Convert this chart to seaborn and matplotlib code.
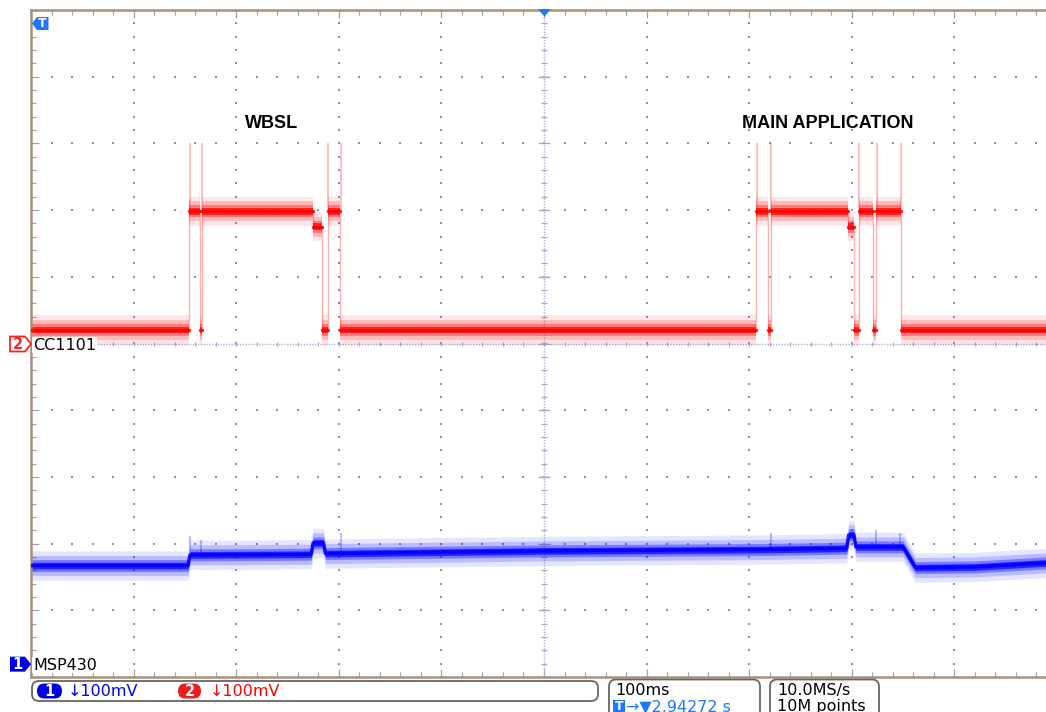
import numpy as np
import pandas as pd
import matplotlib
matplotlib.use("Agg")
import matplotlib.pyplot as plt
import seaborn as sns
from matplotlib.patches import Polygon, FancyBboxPatch, Rectangle
from matplotlib.ticker import MultipleLocator

# ---------------- data ----------------
time_div_ms = 100          # horizontal scale
volt_div_mV = 100          # vertical scale, both channels
ch1_offset_div = -4.8      # MSP430 ground marker position (divisions)
ch2_offset_div = 0.0       # CC1101 ground marker position (divisions)

# CC1101 current (channel 2): step segments
red_edges_ms = [-500, -346, -335, -333, -225, -216, -211, -199, 207, 218, 221,
                296, 302, 307, 321, 324, 348, 500]
red_level_mV = [20, 198, 20, 198, 175, 20, 198, 20, 198, 20, 198,
                175, 20, 198, 20, 198, 20]
red_spike_ms = [-345, -333, -211, -198, 208, 221, 307, 325, 348]
red_spike_top_mV = [300, 300, 300, 300, 300, 300, 300, 300, 300]

# MSP430 current (channel 1): trace vertices
blue_t_ms = [-500, -347, -345, -227, -225, -215, -213, 0, 206, 295, 297, 302,
             304, 350, 362, 420, 500]
blue_mV = [147, 147, 163, 164, 181, 181, 165, 169, 171, 173, 193, 193,
           175, 175, 144, 145, 152]
blue_spike_ms = [-345, -334, -198, 221, 324, 347]
blue_spike_top_mV = [192, 186, 196, 196, 200, 196]

annot_labels = ["WBSL", "MAIN APPLICATION"]
annot_x_ms = [-266, 277]
annot_y_div = [3.3, 3.3]

ch_names = ["MSP430", "CC1101"]
scale_labels = ["\u2193100mV", "\u2193100mV"]
timebase_label = "100ms"
trigger_label = "\u2192\u25bc2.94272 s"
rate_label = "10.0MS/s"
points_label = "10M points"

# ---------------- style ----------------
sns.set_theme(style="white")
plt.rcParams["font.family"] = ["DejaVu Sans"]

W, H = 1046, 712
fig = plt.figure(figsize=(W / 100, H / 100), dpi=100)
fig.patch.set_facecolor("white")

ax = fig.add_axes([31 / W, (H - 677) / H, 1026 / W, 667 / H])
ax.set_xlim(-5 * time_div_ms, 5 * time_div_ms)
ax.set_ylim(-5, 5)
ax.set_facecolor("white")

RED = "#ff0000"
BLUE = "#0000ff"
GRIDC = "#8c90b0"
BANDS = [(0.22, 0.10), (0.15, 0.18), (0.09, 0.35), (0.05, 0.7)]

# ---- graticule ----
ax.xaxis.set_major_locator(MultipleLocator(time_div_ms))
ax.xaxis.set_minor_locator(MultipleLocator(time_div_ms / 5))
ax.yaxis.set_major_locator(MultipleLocator(1))
ax.yaxis.set_minor_locator(MultipleLocator(0.2))
ax.tick_params(which="both", direction="in", top=True, bottom=True, left=True,
               right=False, labelbottom=False, labelleft=False, color="#9aa0c0")
ax.tick_params(which="major", length=6, width=0.9)
ax.tick_params(which="minor", length=3.5, width=0.8)
for s in ["left", "top", "bottom"]:
    ax.spines[s].set_color("#a8917a")
    ax.spines[s].set_linewidth(1.8)
ax.spines["right"].set_visible(False)

xs_major = [x for x in np.arange(-4, 5) * time_div_ms if x != 0]
ys_major = [y for y in np.arange(-4, 5) if y != 0]
yd = np.arange(-5, 5.001, 0.2)
xd = np.arange(-5 * time_div_ms, 5 * time_div_ms + 0.1, time_div_ms / 5)
gx = np.concatenate([np.full(len(yd), x) for x in xs_major] + [xd for _ in ys_major])
gy = np.concatenate([yd for _ in xs_major] + [np.full(len(xd), y) for y in ys_major])
ax.scatter(gx, gy, s=2.2, marker="s", color=GRIDC, linewidths=0, zorder=0.5)

ax.axvline(0, color="#b0b4d4", lw=1, ls=(0, (1, 1)), zorder=0.6)
ax.axhline(0, color="#b0b4d4", lw=1, ls=(0, (1, 1)), zorder=0.6)
ax.scatter(np.zeros(len(yd)), yd, marker="_", s=25, color="#a4a8c8", linewidths=0.9, zorder=0.6)
ax.scatter(np.zeros(9), np.arange(-4, 5), marker="_", s=80, color="#a4a8c8", linewidths=0.9, zorder=0.6)
ax.scatter(xd, np.zeros(len(xd)), marker="|", s=12, color="#a4a8c8", linewidths=0.9, zorder=0.6)

# ---- channel 2 (CC1101) ----
re = np.array(red_edges_ms, float)
rl = np.array(red_level_mV, float) / volt_div_mV + ch2_offset_div
rl_ext = np.r_[rl, rl[-1]]
for half, alpha in BANDS:
    ax.fill_between(re, rl_ext - half, rl_ext + half, step="post", color=RED,
                    alpha=alpha, lw=0, zorder=2)
for i in range(1, len(rl)):
    ax.vlines(re[i], min(rl[i - 1], rl[i]), max(rl[i - 1], rl[i]), color=RED,
              alpha=0.3, lw=1.0, zorder=2)
ax.vlines(red_spike_ms, rl.max(), np.array(red_spike_top_mV) / volt_div_mV + ch2_offset_div,
          color=RED, alpha=0.3, lw=1.2, zorder=2)
seg_df = pd.DataFrame({
    "t": np.ravel(np.column_stack([re[:-1], re[1:]])),
    "v": np.repeat(rl, 2),
    "seg": np.repeat(np.arange(len(rl)), 2),
})
sns.lineplot(data=seg_df, x="t", y="v", units="seg", estimator=None, sort=False,
             color=RED, lw=2.5, alpha=0.9, ax=ax, zorder=3, legend=False)

# ---- channel 1 (MSP430) ----
bt = np.array(blue_t_ms, float)
bv = np.array(blue_mV, float) / volt_div_mV + ch1_offset_div
for half, alpha in BANDS:
    ax.fill_between(bt, bv - half, bv + half, color=BLUE, alpha=alpha, lw=0, zorder=2)
bspk_base = np.interp(blue_spike_ms, bt, bv)
ax.vlines(blue_spike_ms, bspk_base, np.array(blue_spike_top_mV) / volt_div_mV + ch1_offset_div,
          color=BLUE, alpha=0.3, lw=1.2, zorder=2)
sns.lineplot(x=bt, y=bv, estimator=None, sort=False, color=BLUE, lw=2.5, alpha=0.9,
             ax=ax, zorder=3)
ax.set_xlabel("")
ax.set_ylabel("")

# ---- annotations ----
for lab, x, y in zip(annot_labels, annot_x_ms, annot_y_div):
    ax.text(x, y, lab, ha="center", va="center", fontsize=13, fontweight="bold",
            family=["Liberation Sans", "DejaVu Sans"], color="black", zorder=4)

# ---------------- overlay (pixel coordinates) ----------------
ov = fig.add_axes([0, 0, 1, 1], zorder=5)
ov.set_xlim(0, W)
ov.set_ylim(H, 0)
ov.axis("off")
ov.patch.set_alpha(0)

TBLUE = "#1e78ff"
ov.add_patch(Polygon([(32, 23.5), (37, 17), (48.5, 17), (48.5, 30), (37, 30)], closed=True,
                     fc=TBLUE, ec="none"))
ov.text(42.5, 23.8, "T", color="white", fontsize=9, fontweight="bold", ha="center", va="center")
ov.add_patch(Polygon([(538, 9), (551, 9), (544.5, 16.5)], closed=True, fc=TBLUE, ec="none"))

y2 = 344 - ch2_offset_div * 66.7
y1 = 344 - ch1_offset_div * 66.7
ov.add_patch(Polygon([(10, y2 - 7.5), (25, y2 - 7.5), (31, y2), (25, y2 + 7.5), (10, y2 + 7.5)],
                     closed=True, fc="white", ec="#ff2020", lw=1.3))
ov.text(17.5, y2 + 0.5, "2", color="#ff2020", fontsize=10.5, fontweight="bold", ha="center", va="center")
ov.add_patch(Polygon([(10, y1 - 7.5), (25, y1 - 7.5), (31, y1), (25, y1 + 7.5), (10, y1 + 7.5)],
                     closed=True, fc="#0000e6", ec="none"))
ov.text(17.5, y1 + 0.5, "1", color="white", fontsize=10.5, fontweight="bold", ha="center", va="center")
ov.text(33, y2 + 1, ch_names[1], color="black", fontsize=11.5, ha="left", va="center",
        bbox=dict(fc="white", ec="none", pad=0.6))
ov.text(33, y1 + 1, ch_names[0], color="black", fontsize=11.5, ha="left", va="center",
        bbox=dict(fc="white", ec="none", pad=0.6))

ov.add_patch(FancyBboxPatch((32, 681), 566, 20, boxstyle="round,pad=0,rounding_size=7",
                            fc="white", ec="#666666", lw=1.3))
ov.add_patch(FancyBboxPatch((609, 679.5), 151, 50, boxstyle="round,pad=0,rounding_size=7",
                            fc="white", ec="#666666", lw=1.3))
ov.add_patch(FancyBboxPatch((770, 679.5), 109, 50, boxstyle="round,pad=0,rounding_size=7",
                            fc="white", ec="#666666", lw=1.3))

ov.add_patch(FancyBboxPatch((37, 683.5), 25, 15, boxstyle="round,pad=0,rounding_size=7.5",
                            fc="#0000e6", ec="none"))
ov.text(49.5, 691.5, "1", color="white", fontsize=10.5, fontweight="bold", ha="center", va="center")
ov.text(68, 691.5, scale_labels[0], color=BLUE, fontsize=11.5, ha="left", va="center")
ov.add_patch(FancyBboxPatch((178, 683.5), 23, 15, boxstyle="round,pad=0,rounding_size=7.5",
                            fc="#ee1c1c", ec="none"))
ov.text(189.5, 691.5, "2", color="white", fontsize=10.5, fontweight="bold", ha="center", va="center")
ov.text(210, 691.5, scale_labels[1], color=RED, fontsize=11.5, ha="left", va="center")

ov.text(615, 690.5, timebase_label, color="black", fontsize=11.5, ha="left", va="center")
ov.add_patch(Rectangle((613, 699.5), 12, 14, fc=TBLUE, ec="none"))
ov.text(619, 706.5, "T", color="white", fontsize=9, fontweight="bold", ha="center", va="center")
ov.text(625.5, 706.5, trigger_label, color=TBLUE, fontsize=11.5, ha="left", va="center")
ov.text(777, 690.5, rate_label, color="black", fontsize=11.5, ha="left", va="center")
ov.text(777, 706.5, points_label, color="black", fontsize=11.5, ha="left", va="center")

fig.savefig("out.png", dpi=100, facecolor="white")
